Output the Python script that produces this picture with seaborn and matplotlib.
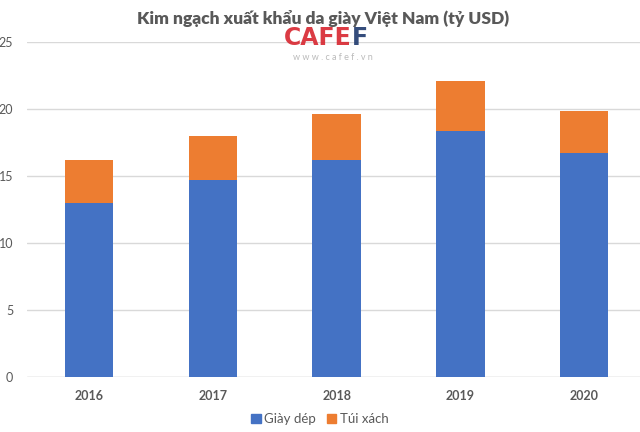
import numpy as np
import pandas as pd
import matplotlib
matplotlib.use('Agg')
import matplotlib.pyplot as plt
import seaborn as sns
from matplotlib.patches import Patch

# Kim ngach xuat khau da giay (ty USD)
years = ['2016', '2017', '2018', '2019', '2020']
giay_dep = [13.0, 14.7, 16.2, 18.35, 16.7]
tui_xach = [3.2, 3.3, 3.4, 3.75, 3.15]

blue = '#4472C4'
orange = '#ED7D31'
grey = '#595959'

df = pd.DataFrame({'Năm': years, 'Giày dép': giay_dep, 'Túi xách': tui_xach})
df['Tổng'] = df['Giày dép'] + df['Túi xách']

sns.set_theme(style='white')
plt.rcParams['font.family'] = ['Lato', 'DejaVu Sans']

fig = plt.figure(figsize=(6.4, 4.32), dpi=100)
ax = fig.add_axes([27 / 640, 1 - 377 / 432, 1 - 27 / 640, (377 - 42) / 432])

# stacked: total in orange, then blue on top of it
sns.barplot(data=df, x='Năm', y='Tổng', color=orange, width=0.39, saturation=1, ax=ax,
            zorder=3, linewidth=0, edgecolor='none')
sns.barplot(data=df, x='Năm', y='Giày dép', color=blue, width=0.39, saturation=1, ax=ax,
            zorder=3, linewidth=0, edgecolor='none')

ax.set_ylim(0, 25)
ax.set_xlim(-0.5, 4.45)
ax.set_yticks(range(0, 26, 5))
ax.yaxis.grid(True, color='#D9D9D9', linewidth=1, zorder=0)
ax.set_xlabel('')
ax.set_ylabel('')
for s in ax.spines.values():
    s.set_visible(False)
ax.axhline(0, color='#D9D9D9', linewidth=1, zorder=2)
ax.tick_params(axis='y', labelsize=9, colors=grey, pad=10, length=0)
ax.tick_params(axis='x', labelsize=9, colors=grey, pad=9, length=0)
for lb in ax.get_xticklabels():
    lb.set_fontweight('bold')

fig.text(0.505, 0.957, 'Kim ngạch xuất khẩu da giày Việt Nam (tỷ USD)', ha='center', va='center',
         fontsize=12.5, fontweight='heavy', color=grey)

# watermark
fig.text(0.55, 0.912, 'CAFE', ha='right', va='center', fontsize=17, fontweight='bold',
         color='#D7262F', alpha=0.9, family='DejaVu Sans')
fig.text(0.55, 0.912, 'F', ha='left', va='center', fontsize=17, fontweight='bold',
         color='#1F3A6E', alpha=0.9, family='DejaVu Sans')
fig.text(0.52, 0.868, 'w w w . c a f e f . v n', ha='center', va='center', fontsize=6.5,
         color='#BBBBBB')

handles = [Patch(color=blue, label='Giày dép'), Patch(color=orange, label='Túi xách')]
fig.legend(handles=handles, loc='center', bbox_to_anchor=(0.5, 1 - 419 / 432), ncol=2, frameon=False,
           fontsize=9.5, handlelength=0.7, handleheight=0.7, handletextpad=0.3, columnspacing=0.8,
           labelcolor=grey)

fig.savefig('out.png', dpi=100)
